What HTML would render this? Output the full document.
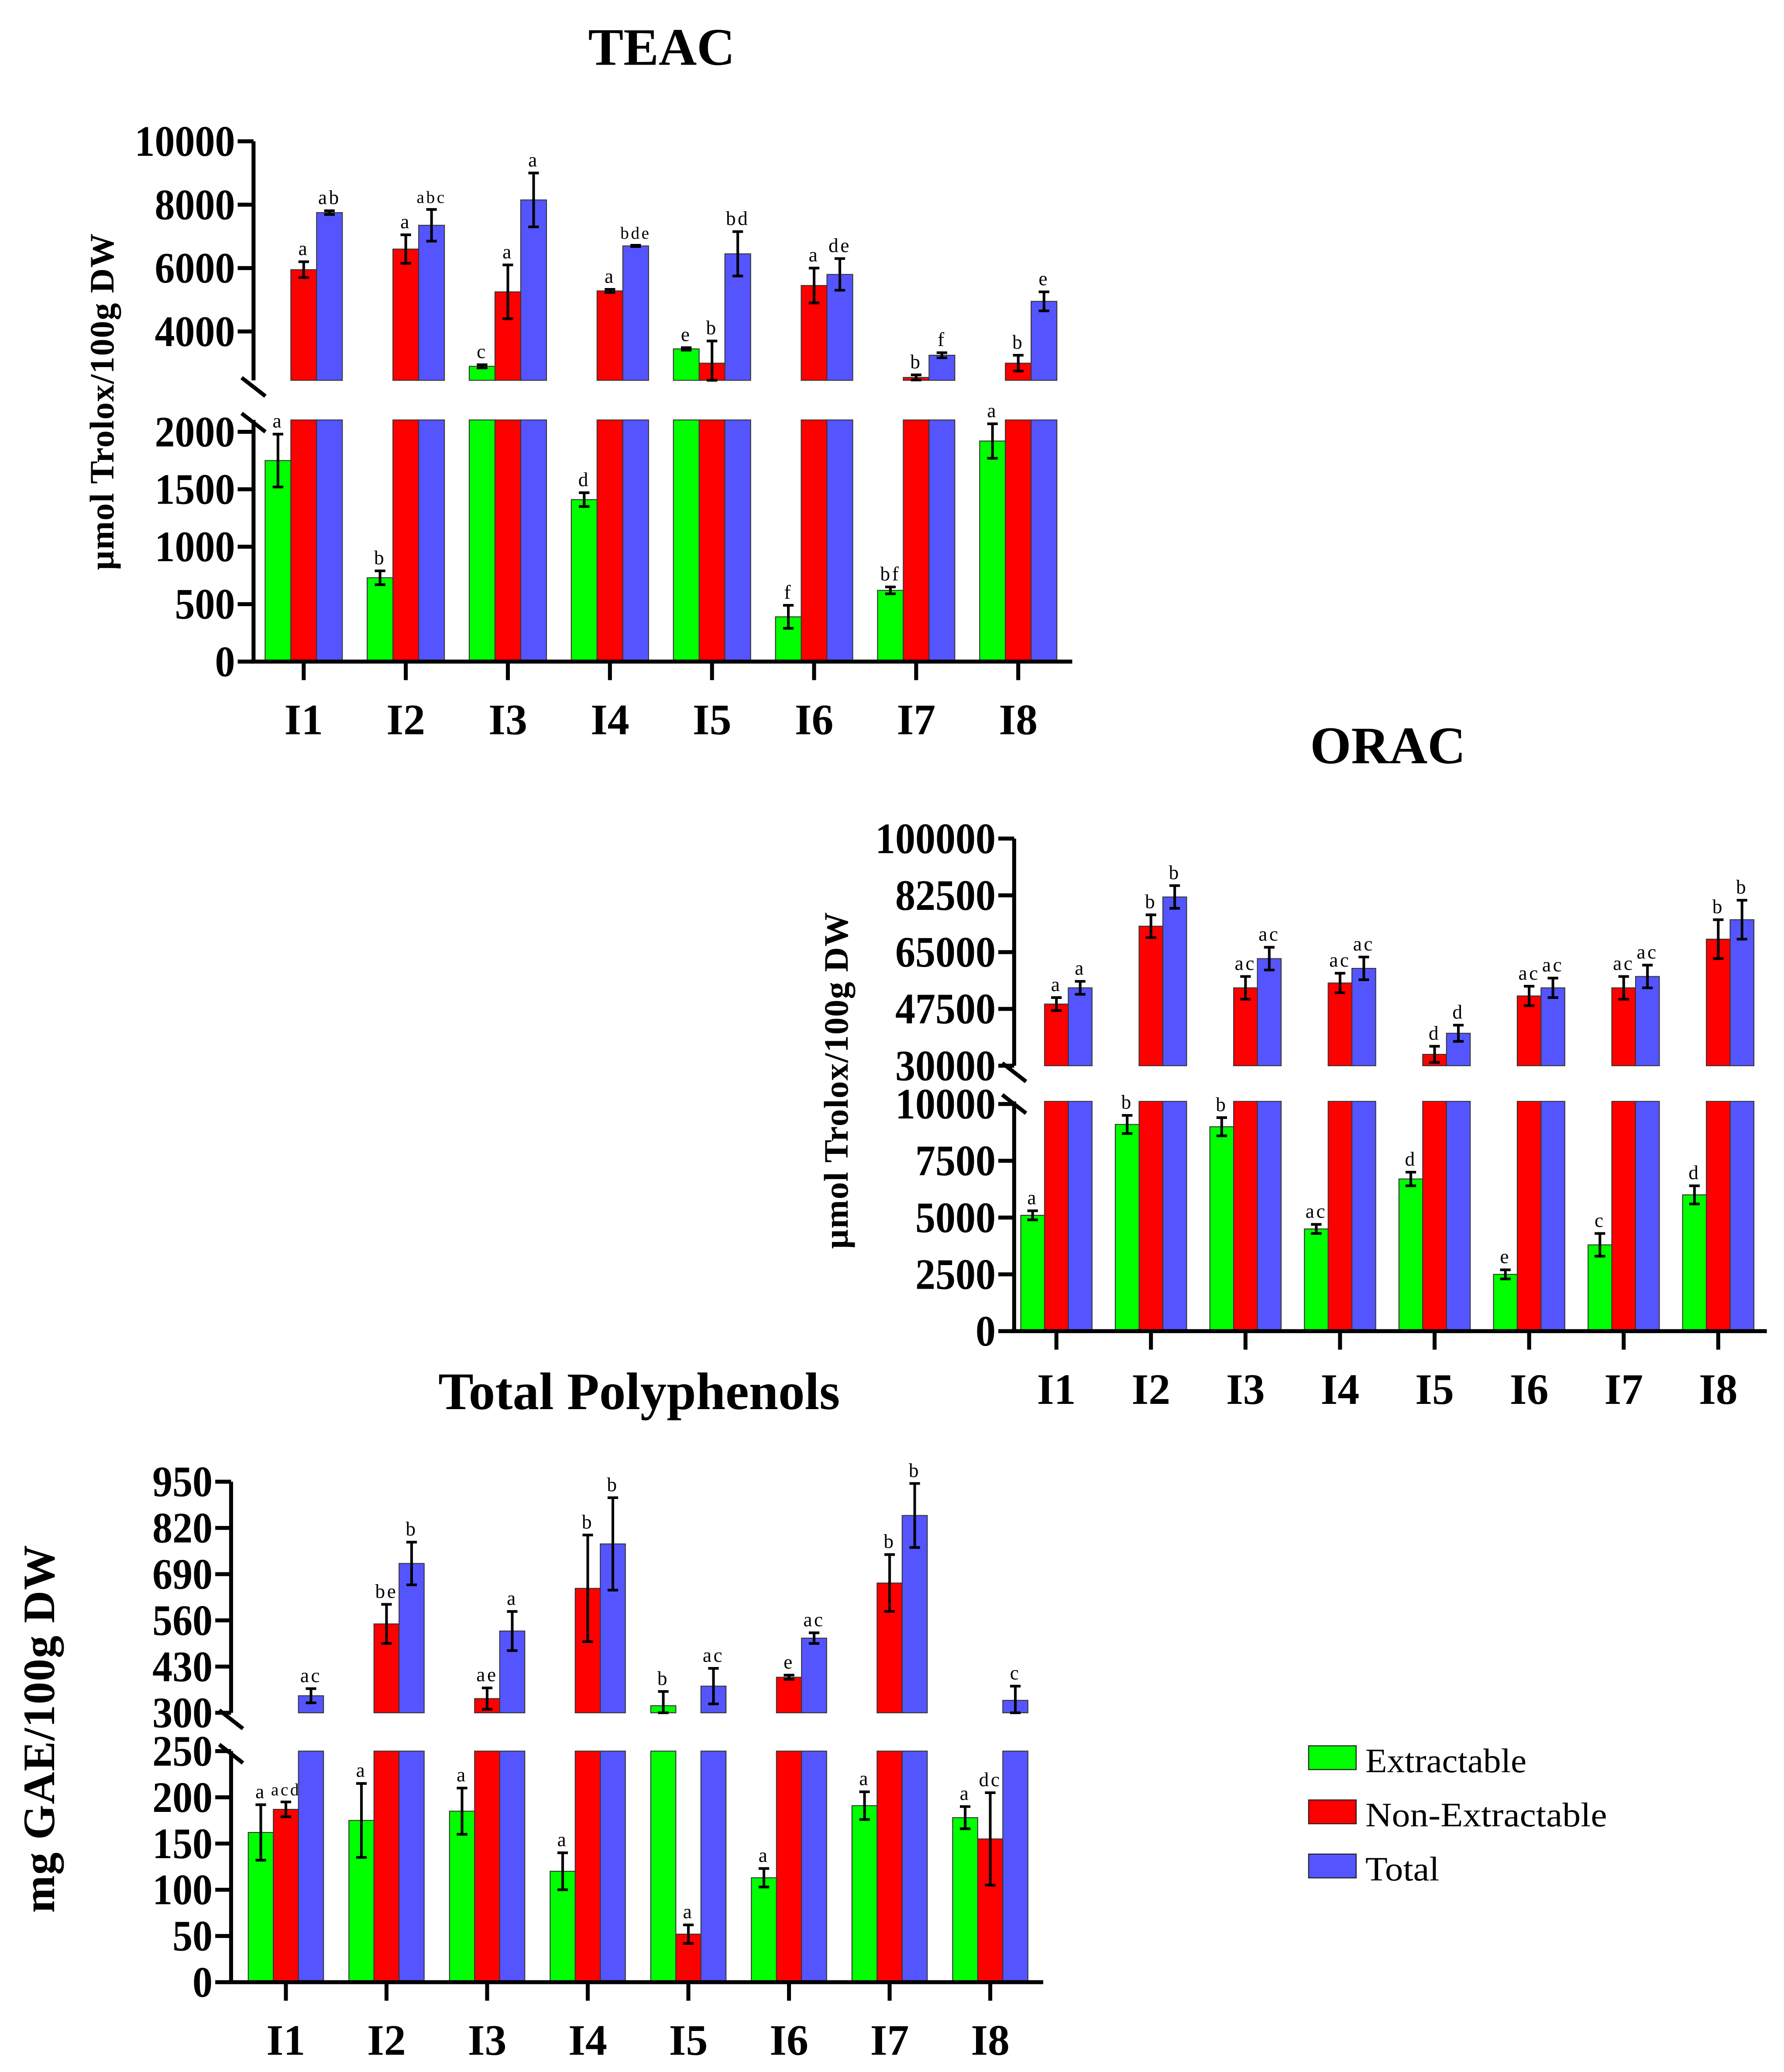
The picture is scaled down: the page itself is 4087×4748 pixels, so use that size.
<!DOCTYPE html>
<html><head><meta charset="utf-8"><style>
html,body{margin:0;padding:0;background:#fff}
svg{display:block}
text{font-family:"Liberation Serif",serif}
</style></head><body>
<svg id="fig" width="4087" height="4748" viewBox="0 0 1351 1569" preserveAspectRatio="none" xmlns="http://www.w3.org/2000/svg">
<rect width="1351" height="1569" fill="#fff"/>
<g>
<rect x="991" y="1322" width="36" height="18" fill="#00ff00" stroke="#222" stroke-width="0.8"/>
<text x="1034" y="1342" font-size="26" textLength="122" lengthAdjust="spacingAndGlyphs">Extractable</text>
<rect x="991" y="1363" width="36" height="18" fill="#ff0000" stroke="#222" stroke-width="0.8"/>
<text x="1034" y="1383" font-size="26" textLength="183" lengthAdjust="spacingAndGlyphs">Non-Extractable</text>
<rect x="991" y="1404" width="36" height="18" fill="#5555ff" stroke="#222" stroke-width="0.8"/>
<text x="1034" y="1424" font-size="26" textLength="56" lengthAdjust="spacingAndGlyphs">Total</text>
</g>
</svg>
<script>
const categories = ["I1","I2","I3","I4","I5","I6","I7","I8"];
// TEAC
const teacExt = [1750,730,2900,1410,3450,390,620,1920];
const teacExtErr = [230,60,50,60,40,100,30,150];
const teacExtLab = ["a","b","c","d","e","f","bf","a"];
const teacNon = [5950,6600,5250,5280,3000,5450,2550,3000];
const teacNonErr = [250,450,850,50,700,550,80,250];
const teacNonLab = ["a","a","a","a","b","a","b","b"];
const teacTot = [7750,7350,8150,6700,6450,5800,3250,4950];
const teacTotErr = [60,500,850,20,700,500,80,300];
const teacTotLab = ["ab","abc","a","bde","bd","de","f","e"];
const teacUpperTicks = [4000,6000,8000,10000];
const teacLowerTicks = [0,500,1000,1500,2000];
// ORAC
const oracExt = [5100,9100,9000,4500,6700,2500,3800,6000];
const oracExtErr = [200,400,400,200,300,200,500,400];
const oracExtLab = ["a","b","b","ac","d","e","c","d"];
const oracNon = [49000,73000,54000,55500,33500,51500,54000,69000];
const oracNonErr = [2000,3500,3500,3000,2500,3000,3500,6000];
const oracNonLab = ["a","b","ac","ac","d","ac","ac","b"];
const oracTot = [54000,82000,63000,60000,40000,54000,57500,75000];
const oracTotErr = [2000,3500,3500,3500,2500,3000,3500,6000];
const oracTotLab = ["a","b","ac","ac","d","ac","ac","b"];
const oracUpperTicks = [30000,47500,65000,82500,100000];
const oracLowerTicks = [0,2500,5000,7500,10000];
// Total polyphenols
const tpExt = [162,175,185,120,320,113,191,178];
const tpExtErr = [30,40,25,20,40,10,15,12];
const tpExtLab = ["a","a","a","a","b","a","a","a"];
const tpNon = [187,550,340,650,52,400,665,155];
const tpNonErr = [8,55,30,150,10,6,80,50];
const tpNonLab = ["acd","be","ae","b","a","e","b","dc"];
const tpTot = [348,720,530,775,375,510,855,335];
const tpTotErr = [20,60,55,130,50,15,90,40];
const tpTotLab = ["ac","b","a","b","ac","ac","b","c"];
const tpUpperTicks = [300,430,560,690,820,950];
const tpLowerTicks = [0,50,100,150,200,250];

const NS="http://www.w3.org/2000/svg";
const svg=document.getElementById('fig');
function mk(tag,attrs,parent){const e=document.createElementNS(NS,tag);for(const k in attrs)e.setAttribute(k,attrs[k]);(parent||svg).appendChild(e);return e;}

function chart(cfg){
  const g=mk('g',{});
  
  
  const U=cfg.upper, L=cfg.lower;
  const yU=v=>U.py1+(U.vmax-v)*(U.py0-U.py1)/(U.vmax-U.vmin);
  const yL=v=>L.py0-(v-L.vmin)*(L.py0-L.py1)/(L.vmax-L.vmin);
  const uBreak=U.vmax-(U.clip-U.py1)*(U.vmax-U.vmin)/(U.py0-U.py1);
  const xC=i=>cfg.x0+i*cfg.step;
  const t=mk('text',{x:cfg.titleX,y:cfg.titleY,'font-size':40,'font-weight':'bold','text-anchor':'middle'},g);
  t.textContent=cfg.title;
  
  
  const yl=mk('text',{x:0,y:0,'font-size':cfg.ylSize,'font-weight':'bold','text-anchor':'middle','letter-spacing':0.5,transform:`translate(${cfg.ylX},${cfg.ylY}) rotate(-90)`},g);
  yl.textContent=cfg.ylabel;
  
  
  const series=[{v:cfg.ext,e:cfg.extErr,l:cfg.extLab,c:'#00ff00',o:-1,n:'extractable'},
                {v:cfg.non,e:cfg.nonErr,l:cfg.nonLab,c:'#ff0000',o:0,n:'non-extractable'},
                {v:cfg.tot,e:cfg.totErr,l:cfg.totLab,c:'#5555ff',o:1,n:'total'}];
  const bw=cfg.bw;
  series.forEach(s=>{
    s.v.forEach((v,i)=>{
      const x=xC(i)+s.o*bw-bw/2;
      const lt=v>L.vmax?L.clip:yL(v);
      const r1=mk('rect',{x:x,y:lt,width:bw,height:L.py0-lt,fill:s.c,stroke:'#333','stroke-width':0.7},g);
      
      
      let ey;
      if(v>uBreak){
        const ut=yU(v);
        const r2=mk('rect',{x:x,y:ut,width:bw,height:U.clip-ut,fill:s.c,stroke:'#333','stroke-width':0.7},g);
        
        
        ey=[yU(v+s.e[i]), Math.min(yU(v-s.e[i]),U.clip)];
      } else {
        ey=[yL(v+s.e[i]),yL(v-s.e[i])];
      }
      const cx=x+bw/2;
      const eb=mk('path',{d:`M${cx},${ey[0]}V${ey[1]}M${cx-4},${ey[0]}H${cx+4}M${cx-4},${ey[1]}H${cx+4}`,stroke:'#000','stroke-width':2,fill:'none'},g);
      
      
      const lab=s.l[i];
      const tx=mk('text',{x:cx,y:ey[0]-5,'font-size':lab.length>2?13:15,'text-anchor':'middle','letter-spacing':1.5},g);
      tx.textContent=lab;
      
      
    });
  });
  const ax=cfg.axX;
  mk('path',{d:`M${ax},${U.py1}V${U.clip}M${ax},${L.clip}V${L.py0}M${ax-2},${L.py0}H${cfg.xEnd}`,stroke:'#000','stroke-width':3,fill:'none'},g);
  mk('path',{d:`M${ax-9},${U.clip-2}L${ax+9},${U.clip+12}M${ax-9},${L.clip-5}L${ax+9},${L.clip+9}`,stroke:'#000','stroke-width':3},g);
  const tickLabel=(v,y)=>{
    const s=String(v);
    const tl=mk('text',{x:ax-14-s.length*15.2,y:y+11,'font-size':33,'font-weight':'bold',textLength:s.length*15.2,lengthAdjust:'spacingAndGlyphs'},g);
    tl.textContent=s;
    
    
  };
  cfg.upperTicks.forEach(v=>{
    mk('line',{x1:ax-12,x2:ax,y1:yU(v),y2:yU(v),stroke:'#000','stroke-width':3},g);
    tickLabel(v,yU(v));
  });
  cfg.lowerTicks.forEach(v=>{
    mk('line',{x1:ax-12,x2:ax,y1:yL(v),y2:yL(v),stroke:'#000','stroke-width':3},g);
    tickLabel(v,yL(v));
  });
  categories.forEach((c,i)=>{
    mk('line',{x1:xC(i),x2:xC(i),y1:L.py0,y2:L.py0+14,stroke:'#000','stroke-width':3},g);
    const tl=mk('text',{x:xC(i),y:L.py0+55,'font-size':33,'font-weight':'bold','text-anchor':'middle'},g);
    tl.textContent=c;
    
    
  });
}

chart({id:'teac',title:'TEAC',titleX:501,titleY:49,ylabel:'µmol Trolox/100g DW',ylSize:26,ylX:86,ylY:304,
  upper:{vmin:4000,vmax:10000,py0:251,py1:107,clip:288},
  lower:{vmin:0,vmax:2000,py0:501,py1:327,clip:318},
  axX:192,xEnd:812,x0:230,step:77.3,bw:19.5,
  ext:teacExt,extErr:teacExtErr,extLab:teacExtLab,non:teacNon,nonErr:teacNonErr,nonLab:teacNonLab,tot:teacTot,totErr:teacTotErr,totLab:teacTotLab,
  upperTicks:teacUpperTicks,lowerTicks:teacLowerTicks});

chart({id:'orac',title:'ORAC',titleX:1051,titleY:578,ylabel:'µmol Trolox/100g DW',ylSize:26,ylX:642,ylY:818,
  upper:{vmin:30000,vmax:100000,py0:807,py1:635,clip:807},
  lower:{vmin:0,vmax:10000,py0:1008,py1:836,clip:834},
  axX:768,xEnd:1338,x0:800,step:71.6,bw:18,
  ext:oracExt,extErr:oracExtErr,extLab:oracExtLab,non:oracNon,nonErr:oracNonErr,nonLab:oracNonLab,tot:oracTot,totErr:oracTotErr,totLab:oracTotLab,
  upperTicks:oracUpperTicks,lowerTicks:oracLowerTicks});

chart({id:'tp',title:'Total Polyphenols',titleX:484,titleY:1067,ylabel:'mg GAE/100g DW',ylSize:34,ylX:41,ylY:1309,
  upper:{vmin:300,vmax:950,py0:1297,py1:1122,clip:1297},
  lower:{vmin:0,vmax:250,py0:1501,py1:1326,clip:1326},
  axX:175,xEnd:790,x0:216.5,step:76.2,bw:19,
  ext:tpExt,extErr:tpExtErr,extLab:tpExtLab,non:tpNon,nonErr:tpNonErr,nonLab:tpNonLab,tot:tpTot,totErr:tpTotErr,totLab:tpTotLab,
  upperTicks:tpUpperTicks,lowerTicks:tpLowerTicks});
</script>
</body></html>
